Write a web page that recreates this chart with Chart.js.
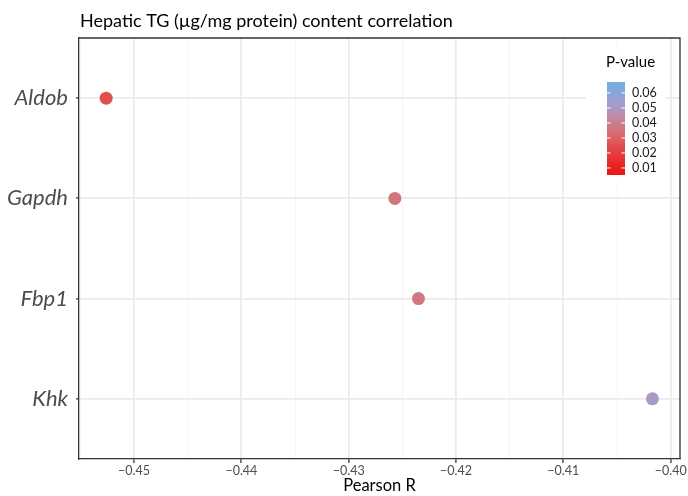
<!DOCTYPE html>
<html><head><meta charset="utf-8">
<script src="https://cdn.jsdelivr.net/npm/chart.js@4/dist/chart.umd.min.js"></script>
<style>html,body{margin:0;padding:0;background:#fff}#wrap{width:688px;height:496px}</style>
</head><body><div id="wrap"><canvas id="c" width="688" height="496"></canvas></div>
<script>
const genes = ["Aldob", "Gapdh", "Fbp1", "Khk"];
const pearsonR = [-0.4526, -0.4257, -0.4235, -0.4017];
const pValues = [0.025, 0.036, 0.037, 0.051];
const xMajorTicks = [-0.45, -0.44, -0.43, -0.42, -0.41, -0.40];
const xMinorTicks = [-0.455, -0.445, -0.435, -0.425, -0.415, -0.405];
const xLimits = [-0.45513, -0.39913];
const legendTicks = [0.01, 0.02, 0.03, 0.04, 0.05, 0.06];
const legendLimits = [0.0053, 0.0673];
const gradientStops = [[0.0053,"#ec1515"],[0.01,"#ea1e1e"],[0.02,"#e43c3e"],[0.03,"#dc6064"],[0.04,"#c98090"],[0.05,"#ad98c4"],[0.06,"#88a6da"],[0.0673,"#74aee0"]];
const titleText = "Hepatic TG (\u00b5g/mg protein) content correlation";

// ---- Lab colour interpolation ----
function hex2rgb(h){h=h.replace('#','');return [0,2,4].map(i=>parseInt(h.substr(i,2),16)/255);}
function lin(c){return c<=0.04045?c/12.92:Math.pow((c+0.055)/1.055,2.4);}
function unlin(c){return c<=0.0031308?12.92*c:1.055*Math.pow(c,1/2.4)-0.055;}
function rgb2lab(rgb){
  const [r,g,b]=rgb.map(lin);
  let X=(r*0.4124+g*0.3576+b*0.1805)/0.95047, Y=(r*0.2126+g*0.7152+b*0.0722), Z=(r*0.0193+g*0.1192+b*0.9505)/1.08883;
  const f=t=>t>0.008856?Math.cbrt(t):7.787*t+16/116;
  const fx=f(X),fy=f(Y),fz=f(Z);
  return [116*fy-16,500*(fx-fy),200*(fy-fz)];
}
function lab2rgb(lab){
  const fy=(lab[0]+16)/116, fx=fy+lab[1]/500, fz=fy-lab[2]/200;
  const fi=t=>t*t*t>0.008856?t*t*t:(t-16/116)/7.787;
  const X=fi(fx)*0.95047,Y=fi(fy),Z=fi(fz)*1.08883;
  let r=X*3.2406+Y*-1.5372+Z*-0.4986, g=X*-0.9689+Y*1.8758+Z*0.0415, b=X*0.0557+Y*-0.2040+Z*1.0570;
  return [r,g,b].map(c=>Math.round(Math.max(0,Math.min(1,unlin(c)))*255));
}
const labStops = gradientStops.map(s=>[s[0], rgb2lab(hex2rgb(s[1]))]);
function pColor(p){
  p=Math.max(labStops[0][0],Math.min(labStops[labStops.length-1][0],p));
  let i=0; while(i<labStops.length-2 && p>labStops[i+1][0]) i++;
  const [p0,l0]=labStops[i],[p1,l1]=labStops[i+1];
  const t=(p-p0)/(p1-p0);
  const c=lab2rgb(l0.map((v,k)=>v+(l1[k]-v)*t));
  return `rgb(${c[0]},${c[1]},${c[2]})`;
}

const isMajor = v => xMajorTicks.some(m => Math.abs(m - v) < 1e-9);
const fmt = v => (v < 0 ? "\u2212" : "") + Math.abs(v).toFixed(2);

const decor = {
  id: 'decor',
  afterDraw(chart){
    const ctx=chart.ctx, a=chart.chartArea;
    ctx.save();
    ctx.strokeStyle='#333'; ctx.lineWidth=1.3;
    ctx.beginPath(); ctx.moveTo(a.left,a.top); ctx.lineTo(a.right,a.top); ctx.lineTo(a.right,a.bottom); ctx.stroke();
    ctx.fillStyle='#000'; ctx.font='18px Lato'; ctx.textBaseline='alphabetic'; ctx.textAlign='left';
    ctx.fillText(titleText, 80, 27);
    ctx.fillStyle='#fff'; ctx.fillRect(586,50,80,132);
    ctx.fillStyle='#000'; ctx.font='15px Lato'; ctx.textAlign='left';
    ctx.fillText('P-value', 606, 67);
    const bx=607,bw=18,top=82,bot=175;
    for(let y=top;y<bot;y++){
      const p=legendLimits[1]-(y+0.5-top)/(bot-top)*(legendLimits[1]-legendLimits[0]);
      ctx.fillStyle=pColor(p); ctx.fillRect(bx,y,bw,1);
    }
    ctx.font='12.5px Lato'; ctx.fillStyle='#1a1a1a'; ctx.textBaseline='middle';
    legendTicks.forEach(p=>{
      const y=bot-(p-legendLimits[0])/(legendLimits[1]-legendLimits[0])*(bot-top);
      ctx.strokeStyle='#fff'; ctx.lineWidth=1;
      ctx.beginPath(); ctx.moveTo(bx,y); ctx.lineTo(bx+3.6,y); ctx.moveTo(bx+bw-3.6,y); ctx.lineTo(bx+bw,y); ctx.stroke();
      ctx.fillText(p.toFixed(2), 632, y);
    });
    ctx.restore();
  }
};

new Chart(document.getElementById('c'), {
  type: 'scatter',
  data: {
    datasets: [{
      data: genes.map((g,i)=>({x: pearsonR[i], y: i})),
      backgroundColor: pValues.map(pColor),
      borderWidth: 0,
      pointRadius: 6.5,
      pointHoverRadius: 6.5
    }]
  },
  options: {
    responsive: false,
    devicePixelRatio: 1,
    animation: false,
    layout: { padding: { top: 38, right: 8, left: 0, bottom: 0 } },
    plugins: { legend: { display: false }, tooltip: { enabled: false } },
    scales: {
      x: {
        type: 'linear', min: xLimits[0], max: xLimits[1],
        afterBuildTicks: s => { s.ticks = [...xMinorTicks, ...xMajorTicks].sort((a,b)=>a-b).map(v=>({value:v})); },
        afterFit: s => { s.height = 37; },
        ticks: { callback: v => isMajor(v) ? fmt(v) : '', autoSkip: false, maxRotation: 0, padding: 0,
                 color: '#4d4d4d', font: { family: 'Lato', size: 12.5 } },
        grid: {
          color: c => isMajor(c.tick.value) ? '#ebebeb' : '#f4f4f4',
          lineWidth: c => isMajor(c.tick.value) ? 1.8 : 0.9,
          tickColor: c => isMajor(c.tick.value) ? '#333' : 'rgba(0,0,0,0)',
          tickLength: 4, tickWidth: 1.3
        },
        border: { color: '#333', width: 1.3 },
        title: { display: true, text: 'Pearson R', color: '#000', font: { family: 'Lato', size: 16.5 }, padding: { top: 0, bottom: 0 } }
      },
      y: {
        type: 'linear', min: -0.6, max: 3.6, reverse: true,
        afterBuildTicks: s => { s.ticks = genes.map((g,i)=>({value:i})); },
        afterFit: s => { s.width = 79; },
        ticks: { callback: v => genes[v] ?? '', padding: 8, color: '#4d4d4d',
                 font: { family: 'Lato', size: 22, style: 'italic' } },
        grid: { color: '#ebebeb', lineWidth: 1.8, tickColor: '#333', tickLength: 3, tickWidth: 1.3 },
        border: { color: '#333', width: 1.3 }
      }
    }
  },
  plugins: [decor]
});
</script></body></html>
